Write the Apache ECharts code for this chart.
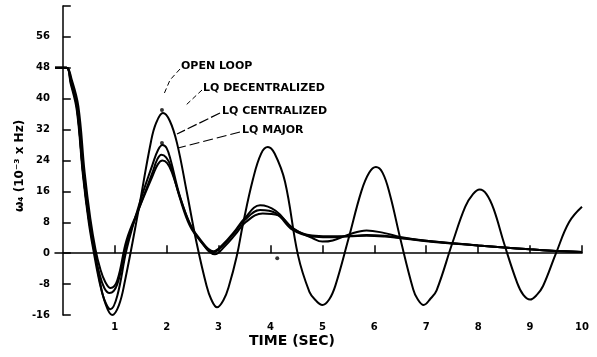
<!DOCTYPE html>
<html>
<head>
<meta charset="utf-8">
<script src="https://cdn.jsdelivr.net/npm/echarts@6/dist/echarts.min.js"></script>
<style>html,body{margin:0;padding:0;background:#fff}#c{width:597px;height:357px}</style>
</head>
<body>
<div id="c"></div>
<script>
var xTicks = [1, 2, 3, 4, 5, 6, 7, 8, 9, 10];
var yTicks = [-16, -8, 0, 8, 16, 24, 32, 40, 48, 56];

var openLoop = [[-0.15,48],[0.07,48],[0.15,45],[0.27,38],[0.39,21],[0.5,9],[0.6,2],[0.71,-7],[0.82,-13],[0.95,-16],[1.08,-13.5],[1.2,-7],[1.45,10.5],[1.7,29],[1.8,33.8],[1.93,36.3],[2.06,34.3],[2.2,28.5],[2.39,15.7],[2.58,2.5],[2.77,-8.5],[2.86,-12],[2.97,-14],[3.1,-12],[3.2,-8.5],[3.35,-0.8],[3.47,7.5],[3.66,19],[3.82,25.8],[3.95,27.5],[4.08,25.8],[4.28,18.5],[4.53,-0.5],[4.75,-10],[4.87,-12.2],[5.0,-13.4],[5.13,-12],[5.25,-8.4],[5.5,3.6],[5.75,16],[5.9,20.8],[6.03,22.3],[6.16,20.8],[6.3,15.2],[6.5,3.8],[6.75,-9.4],[6.83,-11.8],[6.95,-13.4],[7.08,-11.8],[7.2,-9.6],[7.5,2.5],[7.75,12],[7.9,15.3],[8.03,16.5],[8.16,15.3],[8.3,11.4],[8.5,2.5],[8.75,-7.6],[8.87,-10.8],[9.0,-12],[9.13,-10.8],[9.25,-8.5],[9.5,0],[9.75,8],[10.0,12]];

var lqDecentralized = [[-0.15,48],[0.07,48],[0.15,44],[0.27,37],[0.39,20],[0.5,8],[0.6,0],[0.7,-7],[0.8,-12],[0.92,-14.5],[1.05,-11],[1.23,1],[1.48,13],[1.73,23],[1.83,26.6],[1.92,28],[2.0,27.2],[2.08,24],[2.25,15],[2.45,7.5],[2.65,3.5],[2.9,0.5],[3.1,2.5],[3.3,5.5],[3.5,9],[3.8,12.4],[4.1,11],[4.43,6.5],[4.8,4],[5.0,3],[5.2,3.3],[5.5,4.8],[5.85,5.9],[6.2,5.2],[6.5,4.2],[7.0,3.2],[7.5,2.6],[8.0,2],[8.5,1.5],[9.0,1],[9.5,0.6],[10.0,0.3]];

var lqCentralized = [[-0.15,48],[0.07,48],[0.15,44.5],[0.27,38],[0.39,21],[0.5,9],[0.6,1],[0.7,-5],[0.8,-9],[0.9,-10.3],[1.05,-8],[1.23,2.5],[1.48,12],[1.73,21],[1.82,24.3],[1.9,25.5],[1.99,24.8],[2.08,22.5],[2.25,14.5],[2.45,7],[2.65,3.2],[2.9,0.2],[3.1,2.2],[3.3,5.2],[3.5,8.5],[3.8,11.2],[4.1,10.4],[4.43,6],[4.8,4.3],[5.1,4.1],[5.5,4.4],[5.85,4.7],[6.2,4.5],[6.5,4],[7.0,3.2],[7.5,2.6],[8.0,2],[8.5,1.5],[9.0,1],[9.5,0.6],[10.0,0.3]];

var lqMajor = [[-0.15,48],[0.07,48],[0.17,45],[0.3,38],[0.42,21],[0.53,9],[0.63,1],[0.72,-4],[0.82,-7.5],[0.92,-9],[1.05,-7],[1.23,3.5],[1.48,12],[1.73,20],[1.83,23],[1.92,24],[2.01,23.3],[2.1,21],[2.27,14],[2.47,7],[2.67,2.8],[2.93,-0.3],[3.12,1.8],[3.32,4.8],[3.52,8],[3.85,10.3],[4.15,9.8],[4.45,6.2],[4.8,4.6],[5.1,4.4],[5.5,4.4],[5.85,4.5],[6.2,4.3],[6.5,3.9],[7.0,3.1],[7.5,2.5],[8.0,2],[8.5,1.5],[9.0,1],[9.5,0.6],[10.0,0.3]];

var dots = [[1.91,37.1],[1.91,28.5],[4.13,-1.3]];

var seriesNames = ['OPEN LOOP', 'LQ DECENTRALIZED', 'LQ CENTRALIZED', 'LQ MAJOR'];

var FONT = '"DejaVu Sans", sans-serif';
var chart = echarts.init(document.getElementById('c'));

function lineSeries(name, data) {
  return {
    name: name, type: 'line', data: data, smooth: 0.4, showSymbol: false,
    lineStyle: { color: '#000', width: 2 }, animation: false
  };
}

var option = {
  animation: false,
  backgroundColor: '#fff',
  grid: { left: 55, right: 15, top: 6, bottom: 42 },
  xAxis: {
    type: 'value', min: -0.15, max: 10,
    axisLine: { show: true, lineStyle: { color: '#000', width: 1.5 } },
    axisTick: { show: true, inside: true, length: 8, customValues: xTicks, lineStyle: { color: '#000', width: 1.5 } },
    axisLabel: { customValues: xTicks, color: '#000', fontFamily: FONT, fontWeight: 'bold', fontSize: 10, margin: 7 },
    splitLine: { show: false }
  },
  yAxis: {
    type: 'value', min: -16, max: 64, interval: 8,
    axisLine: { show: true, lineStyle: { color: '#000', width: 1.5 } },
    axisTick: { show: true, inside: true, length: 8, lineStyle: { color: '#000', width: 1.5 } },
    axisLabel: {
      color: '#000', fontFamily: FONT, fontWeight: 'bold', fontSize: 10, margin: 5,
      formatter: function (v) { return yTicks.indexOf(v) >= 0 ? String(v) : ''; }
    },
    splitLine: { show: false }
  },
  series: [
    lineSeries(seriesNames[0], openLoop),
    lineSeries(seriesNames[1], lqDecentralized),
    lineSeries(seriesNames[2], lqCentralized),
    lineSeries(seriesNames[3], lqMajor),
    { type: 'scatter', data: dots, symbolSize: 4, itemStyle: { color: '#000' }, animation: false }
  ],
  graphic: [
    { type: 'text', left: 181, top: 61, style: { text: seriesNames[0], font: 'bold 11px ' + FONT, fill: '#000' } },
    { type: 'text', left: 203, top: 83, style: { text: seriesNames[1], font: 'bold 11px ' + FONT, fill: '#000' } },
    { type: 'text', left: 222, top: 106, style: { text: seriesNames[2], font: 'bold 11px ' + FONT, fill: '#000' } },
    { type: 'text', left: 242, top: 125, style: { text: seriesNames[3], font: 'bold 11px ' + FONT, fill: '#000' } },
    { type: 'polyline', shape: { points: [[180,69],[170,80],[164,94]] }, style: { stroke: '#000', lineWidth: 1, lineDash: [5, 3], fill: null } },
    { type: 'polyline', shape: { points: [[202,90],[185,106]] }, style: { stroke: '#000', lineWidth: 1, lineDash: [5, 3], fill: null } },
    { type: 'polyline', shape: { points: [[220,113],[177,134]] }, style: { stroke: '#000', lineWidth: 1.2, lineDash: [10, 3], fill: null } },
    { type: 'polyline', shape: { points: [[240,132],[178,148]] }, style: { stroke: '#000', lineWidth: 1.2, lineDash: [10, 4], fill: null } },
    { type: 'text', left: 249, top: 334, style: { text: 'TIME (SEC)', font: 'bold 14px ' + FONT, fill: '#000' } },
    { type: 'text', x: 20, y: 166, rotation: Math.PI / 2, style: { text: 'ω₄ (10⁻³ x Hz)', font: 'bold 12px ' + FONT, fill: '#000', align: 'center', verticalAlign: 'middle' } }
  ]
};
chart.setOption(option);
</script>
</body>
</html>
